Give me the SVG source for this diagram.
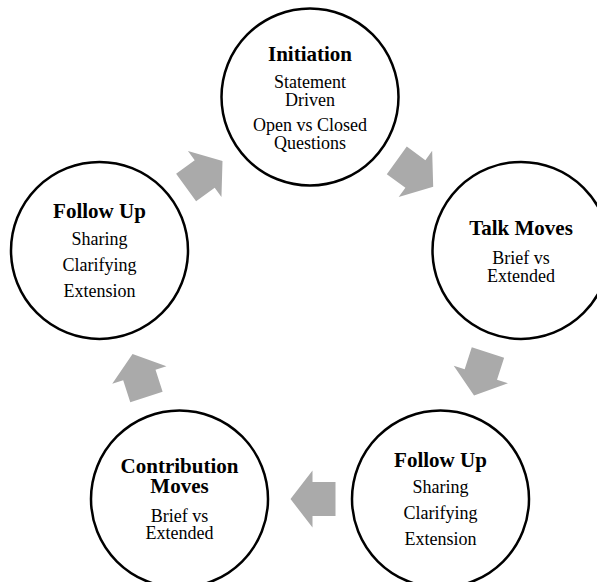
<svg xmlns="http://www.w3.org/2000/svg" xmlns:xlink="http://www.w3.org/1999/xlink" width="597" height="582" viewBox="0 0 597 582">
  <style>
    .node { fill: #ffffff; stroke: #000000; stroke-width: 2.5; }
    .title { font-family: "Liberation Serif", "Times New Roman", serif; font-size: 21px; font-weight: bold; fill: #000000; text-anchor: middle; }
    .body { font-family: "Liberation Serif", "Times New Roman", serif; font-size: 18px; fill: #000000; text-anchor: middle; }
    .flow { fill: #aaaaaa; }
  </style>
  <defs>
    <!-- block arrow pointing along +x, centred on the origin -->
    <polygon id="blockArrow" points="-22.5,-17 0.5,-17 0.5,-28.5 22.5,0 0.5,28.5 0.5,17 -22.5,17"/>
  </defs>
  <rect width="597" height="582" fill="#ffffff"/>

  <g id="connectors">
    <use xlink:href="#blockArrow" class="flow" transform="translate(204.3,174.3) rotate(-36)"/>
    <use xlink:href="#blockArrow" class="flow" transform="translate(415,173.6) rotate(36)"/>
    <use xlink:href="#blockArrow" class="flow" transform="translate(481,374) rotate(108)"/>
    <use xlink:href="#blockArrow" class="flow" transform="translate(313,499) rotate(180)"/>
    <use xlink:href="#blockArrow" class="flow" transform="translate(139.5,375.5) rotate(252)"/>
  </g>

  <g id="initiation">
    <circle class="node" cx="310" cy="97" r="88.5"/>
    <text class="title" x="310" y="60.5">Initiation</text>
    <text class="body" x="310" y="88">Statement</text>
    <text class="body" x="310" y="106">Driven</text>
    <text class="body" x="310" y="131">Open vs Closed</text>
    <text class="body" x="310" y="148.5">Questions</text>
  </g>

  <g id="talk-moves">
    <circle class="node" cx="521" cy="250.4" r="88.5"/>
    <text class="title" x="521" y="235">Talk Moves</text>
    <text class="body" x="521" y="264">Brief vs</text>
    <text class="body" x="521" y="281.5">Extended</text>
  </g>

  <g id="follow-up-right">
    <circle class="node" cx="440.5" cy="499" r="88.5"/>
    <text class="title" x="440.5" y="466.7">Follow Up</text>
    <text class="body" x="440.5" y="493.3">Sharing</text>
    <text class="body" x="440.5" y="519.3">Clarifying</text>
    <text class="body" x="440.5" y="544.5">Extension</text>
  </g>

  <g id="contribution-moves">
    <circle class="node" cx="179.5" cy="499" r="88.5"/>
    <text class="title" x="179.5" y="472.7">Contribution</text>
    <text class="title" x="179.5" y="493.3">Moves</text>
    <text class="body" x="179.5" y="521.7">Brief vs</text>
    <text class="body" x="179.5" y="539.3">Extended</text>
  </g>

  <g id="follow-up-left">
    <circle class="node" cx="99.5" cy="250.4" r="88.5"/>
    <text class="title" x="99.5" y="218.3">Follow Up</text>
    <text class="body" x="99.5" y="244.5">Sharing</text>
    <text class="body" x="99.5" y="270.7">Clarifying</text>
    <text class="body" x="99.5" y="297">Extension</text>
  </g>
</svg>
